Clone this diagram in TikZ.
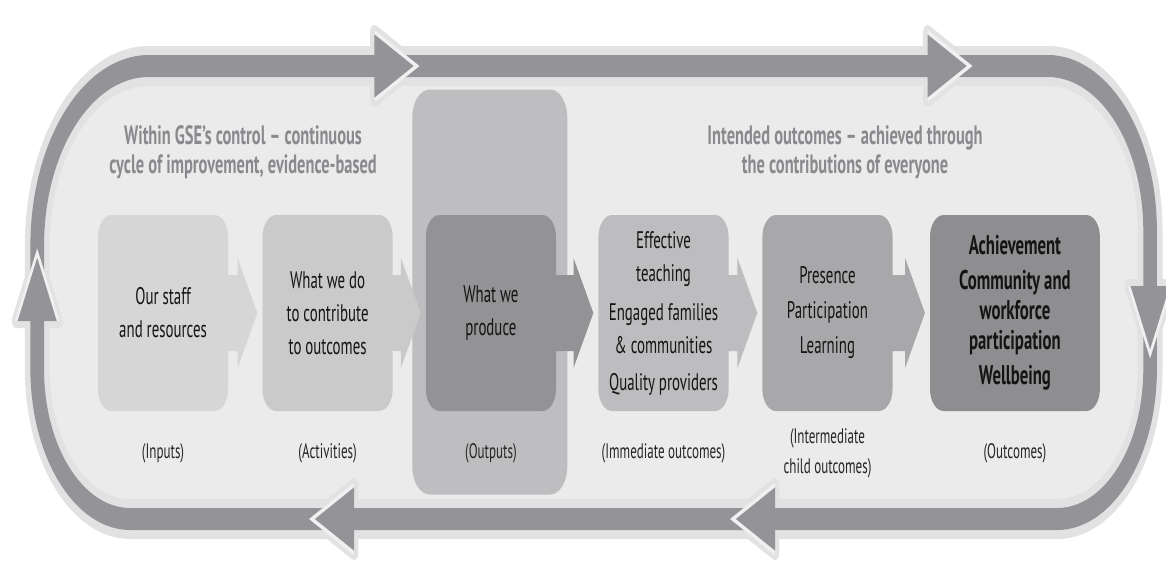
\documentclass[tikz,border=0pt]{standalone}
\usepackage{fontspec}
\setmainfont{PT Sans}
\usetikzlibrary{positioning,calc}

\definecolor{loopband}{RGB}{148,148,152}
\definecolor{loophalo}{RGB}{226,226,227}
\definecolor{loopinside}{RGB}{235,235,235}
\definecolor{notch}{RGB}{240,240,240}
\definecolor{stageA}{RGB}{214,214,214}
\definecolor{stageB}{RGB}{202,202,203}
\definecolor{outcol}{RGB}{190,190,192}
\definecolor{stageC}{RGB}{147,147,150}
\definecolor{stageD}{RGB}{189,189,191}
\definecolor{stageE}{RGB}{168,168,171}
\definecolor{stageF}{RGB}{142,142,145}
\definecolor{headgray}{RGB}{138,138,142}

% the closed loop round the whole diagram
\def\cyclepath{(60,369) -- (60,246) arc[start angle=180, end angle=270, radius=180]
  -- (1690,66) arc[start angle=270, end angle=360, radius=165]
  -- (1855,369) arc[start angle=0, end angle=90, radius=150]
  -- (210,519) arc[start angle=90, end angle=180, radius=150] -- cycle}

\begin{document}
\begin{tikzpicture}[x=1pt, y=-1pt,
    stage/.style = {rounded corners=22pt, minimum width=210pt, minimum height=196pt,
      inner sep=0pt, align=center, text=black!92, font=\fontsize{24}{33}\selectfont},
    tag/.style = {align=center, text=black!85, font=\fontsize{21}{30}\selectfont},
    heading/.style = {align=center, text=headgray, font=\bfseries\fontsize{26.5}{29}\selectfont},
    flow/.style = {to path={
      ($(\tikztostart.east)+(-5,38)$) -- ($(\tikztotarget.west)+(-40,38)$)
      -- ($(\tikztotarget.west)+(-40,55)$) -- ($(\tikztotarget.west)+(-8,0)$)
      -- ($(\tikztotarget.west)+(-40,-55)$) -- ($(\tikztotarget.west)+(-40,-38)$)
      -- ($(\tikztostart.east)+(-5,-38)$) -- cycle}}]

\useasboundingbox[fill=white] (0,0) rectangle (1166,563);

\begin{scope}[transform canvas={xscale=0.62}]
	% loop and its arrow heads
	\draw[loophalo, line width=40pt, fill=loopinside] \cyclepath;
	\foreach \tx/\ty/\ang in {672/66/0, 1564/66/0, 1855/354/-90, 1182/519/180, 503/519/180, 60/253/90}
		\draw[loophalo, line width=14pt, line join=round, fill=loophalo, shift={(\tx,\ty)}, rotate=\ang]
			(-68,-34) -- (0,0) -- (-68,34) -- cycle;
	\draw[loopband, line width=22pt] \cyclepath;
	\foreach \tx/\ty/\ang in {672/66/0, 1564/66/0, 1855/354/-90, 1182/519/180, 503/519/180, 60/253/90} {
		\fill[loopband, shift={(\tx,\ty)}, rotate=\ang] (-68,-34) -- (0,0) -- (-68,34) -- cycle;
		\draw[notch, line width=4pt, shift={(\tx,\ty)}, rotate=\ang] (-68,-34) -- (0,0) -- (-68,34);
	}

	\node[heading] (h1) at (392,152) {Within GSE’s control – continuous\\cycle of improvement, evidence-based};
	\node[heading] (h2) at (1363,152) {Intended outcomes – achieved through\\the contributions of everyone};

	% the six stages
	\node[rounded corners=28pt, fill=outcol, minimum width=250pt, minimum height=405pt] (out) at (790,292) {};
	\node[stage, fill=stageA] (b1) at (263,313) {Our staff\\and resources};
	\node[stage, fill=stageB] (b2) [right=55pt of b1] {What we do\\to contribute\\to outcomes};
	\node[stage, fill=stageC] (b3) [right=53pt of b2] {What we\\produce};
	\node[stage, fill=stageD] (b4) [right=68pt of b3] {Effective\\teaching\\[6pt]Engaged families\\\& communities\\[4pt]Quality providers};
	\node[stage, fill=stageE] (b5) [right=54pt of b4] {Presence\\[2pt]Participation\\[2pt]Learning};
	\node[stage, fill=stageF, minimum width=274pt, font=\bfseries\fontsize{27}{30}\selectfont] (b6) [right=60pt of b5]
		{Achievement\\[5pt]Community and\\workforce\\participation\\[5pt]Wellbeing};

	\fill[stageA] (b1) to[flow] (b2);
	\fill[stageB] (b2) to[flow] (b3);
	\fill[stageC] (b3) to[flow] (b4);
	\fill[stageD] (b4) to[flow] (b5);
	\fill[stageE] (b5) to[flow] (b6);

	\coordinate (tagrow) at (0,453);
	\node[tag] (t1) at (b1 |- tagrow) {(Inputs)};
	\node[tag] (t2) at (b2 |- tagrow) {(Activities)};
	\node[tag] (t3) at (b3 |- tagrow) {(Outputs)};
	\node[tag] (t4) at (b4 |- tagrow) {(Immediate outcomes)};
	\node[tag] (t5) at (b5 |- tagrow) {(Intermediate\\child outcomes)};
	\node[tag] (t6) at (b6 |- tagrow) {(Outcomes)};
\end{scope}
\end{tikzpicture}
\end{document}
